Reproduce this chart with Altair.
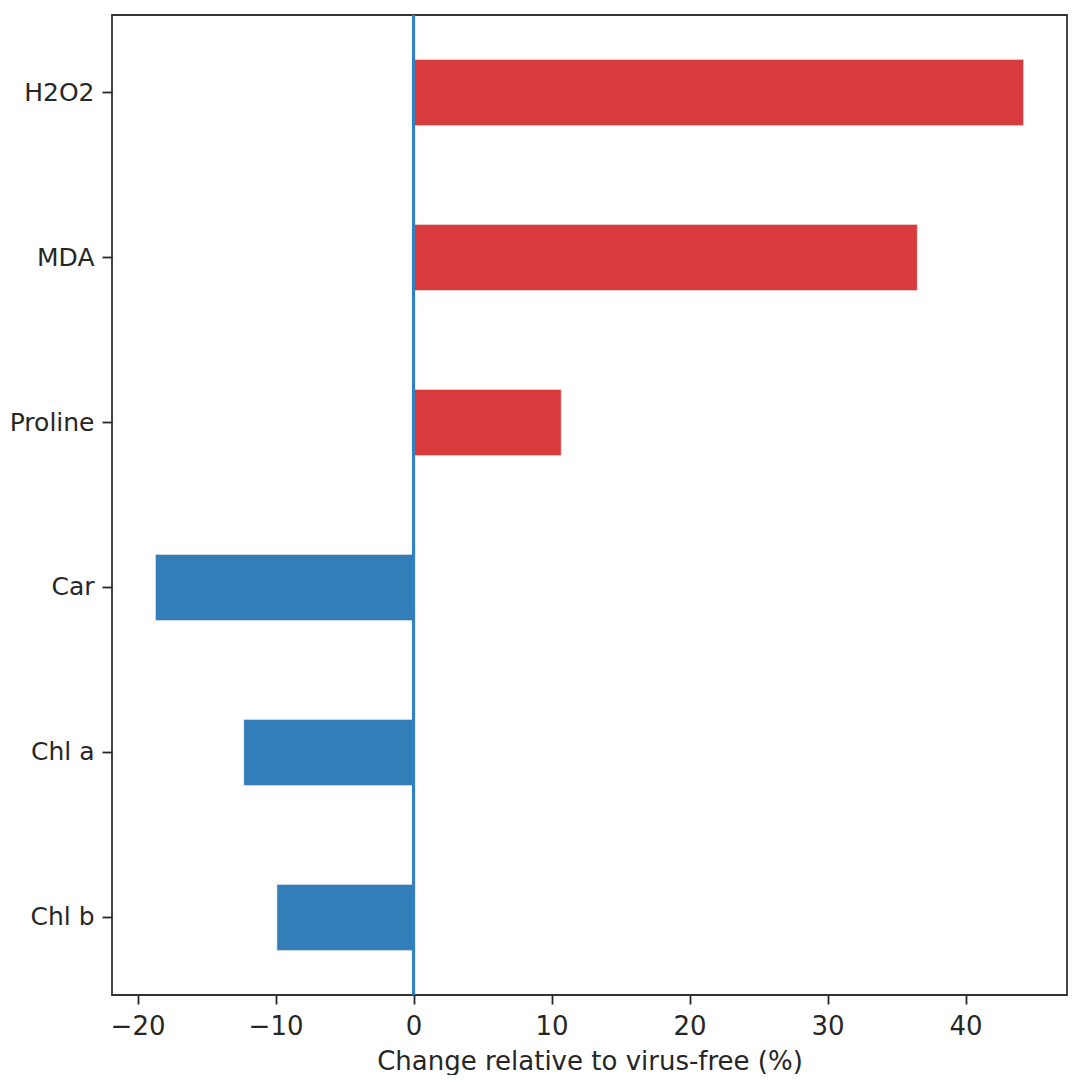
import altair as alt
import pandas as pd

categories = ["H2O2", "MDA", "Proline", "Car", "Chl a", "Chl b"]
values = [44.2, 36.5, 10.7, -18.7, -12.3, -9.9]

df = pd.DataFrame({"metric": categories, "change": values})

FONT = "DejaVu Sans"
RED = "#d83a3d"
BLUE = "#337eb8"
FS = 26

x_scale = alt.Scale(domain=[-21.85, 47.35], nice=False, zero=False)
y_scale = alt.Scale(domain=categories, paddingInner=0.6, paddingOuter=0.27)

bars = alt.Chart(df).mark_bar(stroke="#e6e6e6", strokeWidth=0.6).encode(
    y=alt.Y("metric:N", scale=y_scale, sort=categories,
            axis=alt.Axis(title=None, labelFont=FONT, labelFontSize=25,
                          labelColor="#262626", tickColor="#262626",
                          tickSize=10, tickWidth=1.8, labelPadding=8,
                          domain=False, grid=False)),
    x=alt.X("change:Q", scale=x_scale,
            axis=alt.Axis(title="Change relative to virus-free (%)",
                          titleFont=FONT, titleFontSize=FS, titleFontWeight="normal",
                          titleColor="#262626", titlePadding=9,
                          labelFont=FONT, labelFontSize=FS, labelColor="#262626",
                          values=[-20, -10, 0, 10, 20, 30, 40],
                          tickColor="#262626", tickSize=9, tickWidth=1.8,
                          labelPadding=9, domain=False, grid=False)),
    x2=alt.datum(0),
    color=alt.condition(alt.datum.change > 0, alt.value(RED), alt.value(BLUE)),
)

zero_df = pd.DataFrame({"x": [0]})
zero_line = alt.Chart(zero_df).mark_rule(color="#3380c2", strokeWidth=3.2).encode(
    x=alt.X("x:Q", scale=x_scale)
)

chart = alt.layer(bars, zero_line).properties(
    width=955,
    height=980,
    autosize=alt.AutoSizeParams(type="none"),
    padding={"left": 104, "top": 7, "right": 4, "bottom": 80},
    background="white",
).configure_view(
    stroke="#333333", strokeWidth=1.8
)

chart.save("out.html", embed_options={"renderer": "svg", "actions": False})
